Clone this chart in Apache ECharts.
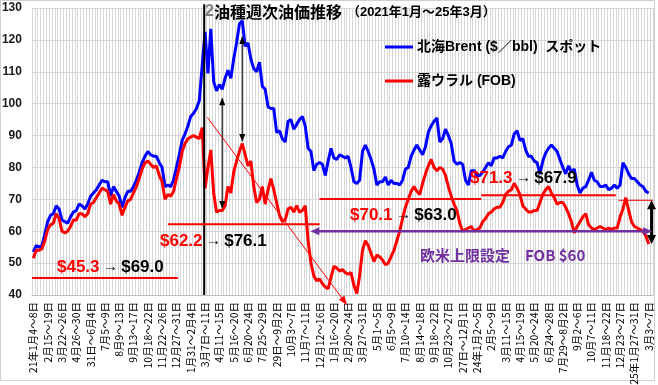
<!DOCTYPE html>
<html><head><meta charset="utf-8">
<script src="https://cdn.jsdelivr.net/npm/echarts@6/dist/echarts.min.js"></script>
<style>html,body{margin:0;padding:0;background:#fff}#c{width:658px;height:385px}</style>
</head><body><div id="c"></div>
<script>
// ---- tick labels (one every 5 weeks, starting at week 0) ----
const tickLabels = ["21年1月4～8日","2月15～19日","3月22～26日","4月26～30日","31日～6月4日","7月5～9日","8月9～13日","9月13～17日","10月18～22日","11月22～26日","12月27～31日","1月31～2月4日","3月7日～11日","4月11～15日","5月16～20日","6月20～24日","7月25～29日","29日～9月2日","10月3～7日","11月7～11日","12月12～16日","1月16～20日","2月20～24日","3月27～31日","5月1～5日","6月5～9日","7月10～14日","8月14～18日","9月18～22日","10月23～27日","27日～12月1日","24年1月2～5日","2月5～9日","3月11～15日","4月15～19日","5月20～24日","6月24～28日","7月29～8月2日","9月2～6日","10月7～11日","11月18～22日","12月23～27日","25年1月27～31日","3月3～7日"];
const weekCount = 217;
const categories = Array.from({length: weekCount}, (_, i) => 'w' + i);

// ---- weekly prices ($/bbl) ----
const brent = [
53.5,55.5,55.0,55.5,59.0,63.0,65.0,65.5,68.0,67.0,
63.5,63.0,62.5,64.5,66.0,66.5,68.5,68.0,67.0,68.5,
71.0,72.0,73.0,74.5,76.0,75.5,75.5,71.0,74.0,72.5,
71.0,67.5,70.5,72.5,72.5,74.0,76.0,78.5,81.5,83.5,
85.0,84.0,83.5,83.5,81.5,80.0,74.0,74.5,74.0,76.0,
80.0,84.0,88.5,90.5,93.0,96.0,97.0,98.5,101.0,112.0,
122.5,109.5,123.5,107.0,104.0,106.0,104.5,108.0,110.5,108.0,
114.0,119.0,125.0,126.0,118.0,119.0,114.0,111.0,110.0,113.0,
105.5,104.5,99.0,98.5,98.5,91.0,91.5,89.0,88.0,94.5,
95.0,92.0,93.5,95.0,96.0,93.0,86.0,85.0,79.0,81.0,
81.5,81.0,77.5,82.0,86.0,83.0,82.5,84.0,83.5,83.0,
83.5,80.0,75.5,75.0,76.0,85.0,87.0,85.0,82.5,79.5,
74.5,75.5,75.5,77.0,74.5,76.0,75.0,75.0,74.5,76.0,
79.5,80.0,83.5,85.5,87.0,85.5,84.0,86.5,91.0,93.0,
94.5,95.5,88.0,89.0,92.0,90.0,87.5,82.0,81.0,81.5,
81.0,76.0,74.5,79.0,79.0,77.5,77.5,78.5,80.0,81.5,
80.5,83.0,83.0,83.5,83.0,85.0,86.5,87.0,90.5,91.5,
88.5,89.0,85.5,83.5,83.5,82.0,81.5,78.0,82.0,84.5,
86.0,87.0,86.0,85.0,82.5,80.0,78.0,80.5,78.5,79.5,
74.5,72.0,73.5,74.0,76.0,78.5,76.0,75.5,74.0,74.0,
74.5,73.0,73.5,74.5,73.5,74.5,81.5,80.0,78.0,76.5,
76.5,75.5,74.5,74.0,72.5,72.0
];
const urals = [
51.5,54.0,54.0,54.5,57.0,60.5,62.0,62.5,65.5,64.0,
60.0,59.5,60.0,61.5,63.5,63.5,65.5,65.5,64.5,65.5,
68.5,69.0,70.5,72.0,73.5,73.0,72.5,68.5,71.5,69.5,
68.5,65.0,67.5,69.5,70.0,72.0,74.0,76.5,79.5,81.5,
82.0,81.0,80.0,80.5,77.5,75.5,70.0,71.5,71.0,72.5,
76.5,80.0,85.0,87.5,89.0,89.5,90.0,89.5,89.0,92.5,
73.5,80.0,85.5,72.0,66.0,66.5,66.5,68.0,74.0,72.0,
78.5,82.0,85.0,87.5,84.0,80.5,82.0,74.0,69.0,70.0,
74.0,68.5,73.0,76.5,73.0,69.0,65.0,63.0,63.5,67.0,
67.5,66.0,68.0,66.0,66.5,68.0,57.0,50.0,46.0,44.5,
45.0,43.5,42.5,42.0,45.5,49.0,48.5,47.5,48.0,47.0,
46.5,47.0,43.0,40.5,46.0,54.0,57.0,55.5,53.0,50.5,
52.5,52.0,51.0,49.5,50.0,52.0,54.0,57.0,60.0,64.0,
67.5,70.0,72.5,74.0,72.5,71.5,75.0,78.0,80.5,82.5,
80.0,79.0,80.0,79.5,77.5,74.0,71.0,68.5,66.5,62.5,
60.0,60.5,61.0,61.5,60.0,60.5,61.0,63.0,64.0,65.5,
66.0,67.0,67.5,67.5,69.0,71.5,72.5,73.0,75.0,73.5,
71.5,68.0,67.0,66.0,66.0,66.5,66.5,69.0,71.5,73.0,
74.0,72.0,70.5,68.5,69.0,69.0,67.5,65.5,63.0,59.5,
61.5,63.0,64.5,65.5,62.0,61.0,60.5,61.0,61.5,61.0,
60.5,61.0,60.5,61.0,61.0,64.5,67.0,70.5,66.5,63.0,
61.5,61.0,60.5,60.0,58.5,56.0
];

// ---- budget assumption lines (value, from week, to week) ----
const budgetValues = [45.3, 62.2, 70.1, 71.3, 69.7];
const budgetFrom   = [-0.5, 47, 100, 156.5, 204.5];
const budgetTo     = [50.5, 100, 156.5, 203.5, 216.5];
const budgetActual = ['$69.0', '$76.1', '$63.0', '$67.9'];
const priceCap = 60;

const FONT_CJK = '"Noto Sans CJK JP", "Liberation Sans", sans-serif';
const FONT_NUM = '"Liberation Sans", "Noto Sans CJK JP", sans-serif';

const chart = echarts.init(document.getElementById('c'), null, {renderer: 'canvas'});
chart.setOption({
  animation: false,
  backgroundColor: '#fff',
  title: {
    text: '{g|2}{m|油種週次油価推移} {s|（2021年1月～25年3月）}',
    left: 205, top: 3, padding: 0,
    textStyle: {
      rich: {
        g: {color: '#808080', fontSize: 16, fontFamily: FONT_NUM},
        m: {color: '#000', fontSize: 16, fontFamily: FONT_CJK},
        s: {color: '#000', fontSize: 13, fontWeight: 'bold', fontFamily: FONT_NUM}
      }
    }
  },
  legend: {
    orient: 'vertical', left: 385, top: 40, padding: 0,
    itemWidth: 28, itemHeight: 3, itemGap: 20, icon: 'rect',
    textStyle: {fontSize: 14, fontWeight: 'bold', color: '#000', fontFamily: FONT_NUM, padding: [0,0,0,-1]},
    data: ['北海Brent ($／bbl)  スポット', '露ウラル (FOB)']
  },
  grid: {left: 31.9, right: 5, top: 8, bottom: 90, containLabel: false, outerBoundsMode: 'none'},
  xAxis: {
    type: 'category', data: categories, boundaryGap: true,
    axisLine: {show: true, lineStyle: {color: '#bfbfbf'}},
    axisTick: {show: false, interval: 0},
    splitLine: {show: true, interval: 0, lineStyle: {color: '#d6d6d6', width: 1}},
    axisLabel: {
      interval: 4, rotate: 90, margin: 7, fontSize: 10.5, color: '#000', fontFamily: FONT_CJK,
      formatter: (v, i) => (i % 5 === 0 && tickLabels[i / 5]) ? tickLabels[i / 5] : ''
    }
  },
  yAxis: {
    type: 'value', min: 40, max: 130, interval: 10,
    axisLine: {show: false}, axisTick: {show: false},
    splitLine: {show: true, lineStyle: {color: '#d6d6d6', width: 1}},
    axisLabel: {fontSize: 12, fontWeight: 'bold', color: '#1a1a1a', fontFamily: FONT_NUM, margin: 10}
  },
  series: [
    {name: '北海Brent ($／bbl)  スポット', type: 'line', data: brent, symbol: 'none',
     lineStyle: {color: '#0000ff', width: 3}, itemStyle: {color: '#0000ff'}, z: 3},
    {name: '露ウラル (FOB)', type: 'line', data: urals, symbol: 'none',
     lineStyle: {color: '#ff0000', width: 3}, itemStyle: {color: '#ff0000'}, z: 4}
  ]
});

// ---- annotations positioned through the chart's own scales ----
function P(i, v) {
  const i0 = Math.floor(i), f = i - i0;
  const a = chart.convertToPixel({gridIndex: 0}, [i0, v]);
  const b = chart.convertToPixel({gridIndex: 0}, [i0 + 1, v]);
  return [a[0] + (b[0] - a[0]) * f, a[1]];
}
function arrow(p1, p2, o) {
  const dx = p2[0] - p1[0], dy = p2[1] - p1[1], L = Math.hypot(dx, dy);
  const ux = dx / L, uy = dy / L, nx = -uy, ny = ux;
  const els = [];
  let s = p1, e = p2;
  function head(tip, dirx, diry) {
    const bx = tip[0] - dirx * o.len, by = tip[1] - diry * o.len;
    els.push({type: 'polygon', z: 20, shape: {points: [tip, [bx + nx * o.w / 2, by + ny * o.w / 2], [bx - nx * o.w / 2, by - ny * o.w / 2]]}, style: {fill: o.color}});
    return [tip[0] - dirx * o.len * 0.6, tip[1] - diry * o.len * 0.6];
  }
  if (o.h1) s = head(p1, -ux, -uy);
  if (o.h2) e = head(p2, ux, uy);
  els.push({type: 'line', z: 19, shape: {x1: s[0], y1: s[1], x2: e[0], y2: e[1]}, style: {stroke: o.color, lineWidth: o.width}});
  return els;
}
function seg(p1, p2, color, width) {
  return {type: 'line', z: 18, shape: {x1: p1[0], y1: p1[1], x2: p2[0], y2: p2[1]}, style: {stroke: color, lineWidth: width}};
}

const g = [];
// invasion line
g.push(seg(P(59.7, 131.2), P(59.7, 40), '#000', 2));
// budget lines
budgetValues.forEach((v, k) => g.push(seg(P(budgetFrom[k], v), P(budgetTo[k], v), '#ff0000', k === 4 ? 1 : 2)));
// black double arrows (gap between Brent and Urals)
g.push(...arrow(P(66, 67), P(66, 102), {color: '#000', width: 1, h1: true, h2: true, len: 8, w: 6}));
g.push(...arrow(P(73, 88), P(73, 121.2), {color: '#000', width: 1, h1: true, h2: true, len: 8, w: 6}));
// red falling trend line
g.push(...arrow(P(60.8, 95.7), P(109.6, 36.9), {color: '#ff0000', width: 1, h1: false, h2: true, len: 9, w: 7}));
// price cap arrow
g.push(...arrow(P(96.8, priceCap), P(216.2, priceCap), {color: '#7030a0', width: 2.5, h1: true, h2: true, len: 9, w: 8}));
// right black arrow from 2025 budget to latest price
g.push(...arrow(P(216, 69.7), P(216, 56), {color: '#000', width: 3, h1: true, h2: true, len: 9, w: 9}));

// text labels
const rich = {
  r: {fill: '#ff0000', fontSize: 17, fontWeight: 'bold', fontFamily: FONT_NUM},
  a: {fill: '#000', fontSize: 15, fontFamily: FONT_NUM},
  k: {fill: '#000', fontSize: 17, fontWeight: 'bold', fontFamily: FONT_NUM}
};
function label(x, y, budget, actual) {
  return {type: 'text', z: 21, x: x, y: y, style: {text: '{r|$' + budget.toFixed(1) + '} {a|→} {k|' + actual + '}', rich: rich, verticalAlign: 'middle', align: 'left'}};
}
g.push(label(57, 267, budgetValues[0], budgetActual[0]));
g.push(label(160, 241, budgetValues[1], budgetActual[1]));
g.push(label(350, 215, budgetValues[2], budgetActual[2]));
g.push(label(470, 178, budgetValues[3], budgetActual[3]));
g.push({type: 'text', z: 21, x: 420, y: 255, style: {text: '欧米上限設定　FOB $60', fill: '#7030a0', fontSize: 15, fontWeight: 'bold', fontFamily: FONT_CJK, verticalAlign: 'middle', align: 'left'}});
// outer frame
g.push({type: 'rect', z: 0, shape: {x: 0.5, y: 0.5, width: 654, height: 380}, style: {fill: null, stroke: '#d0d0d0', lineWidth: 1}});

chart.setOption({graphic: g});
</script>
</body></html>
